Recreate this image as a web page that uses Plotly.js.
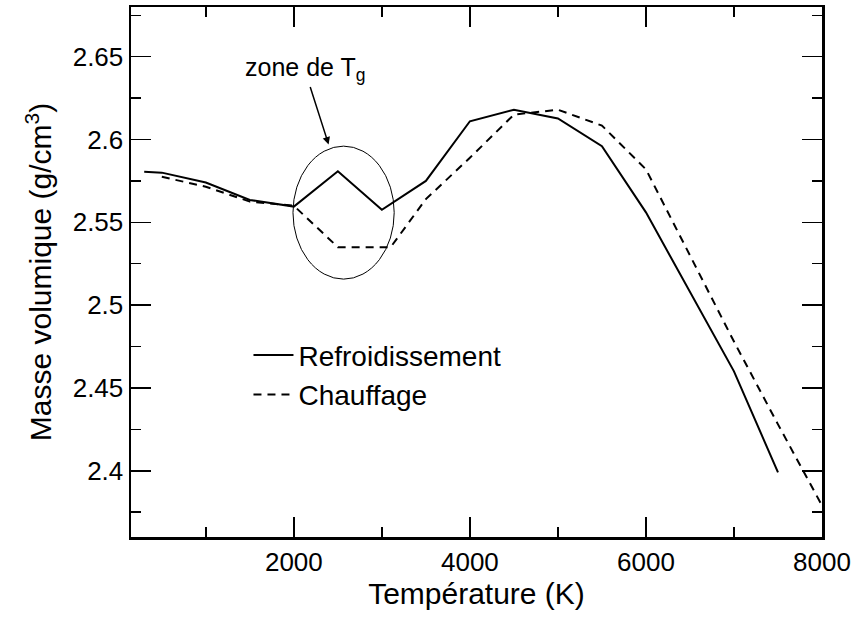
<!DOCTYPE html>
<html><head><meta charset="utf-8">
<script src="https://cdn.plot.ly/plotly-3.0.1.min.js"></script>
<style>html,body{margin:0;padding:0;background:#fff}#chart{width:856px;height:617px}</style>
</head><body><div id="chart"></div>
<script>
// Refroidissement (cooling) — solid line
const coolingT   = [300, 500, 1000, 1500, 2000, 2500, 3000, 3500, 4000, 4500, 5000, 5500, 6000, 6500, 7000, 7500];
const coolingRho = [2.5805, 2.580, 2.574, 2.5635, 2.5595, 2.5808, 2.5576, 2.575, 2.611, 2.618, 2.6127, 2.596, 2.556, 2.508, 2.460, 2.399];
// Chauffage (heating) — dashed line
const heatingT   = [500, 1000, 1500, 2000, 2500, 3100, 3500, 4000, 4500, 5000, 5500, 6000, 6500, 7000, 7500, 8000];
const heatingRho = [2.5775, 2.5715, 2.5625, 2.5600, 2.535, 2.535, 2.564, 2.589, 2.615, 2.618, 2.6084, 2.582, 2.530, 2.478, 2.428, 2.379];

const seriesNames = ['Refroidissement', 'Chauffage'];
const xTickVals = [2000, 4000, 6000, 8000];
const xTickText = ['2000', '4000', '6000', '8000'];
const yTickVals = [2.4, 2.45, 2.5, 2.55, 2.6, 2.65];
const yTickText = ['2.4', '2.45', '2.5', '2.55', '2.6', '2.65'];

const FONT = 'Liberation Sans, Arial, Helvetica, sans-serif';

const traces = [
  {x: coolingT, y: coolingRho, name: seriesNames[0], type: 'scatter', mode: 'lines',
   line: {color: '#000', width: 2}},
  {x: heatingT, y: heatingRho, name: seriesNames[1], type: 'scatter', mode: 'lines',
   line: {color: '#000', width: 2, dash: '8px,6px'}}
];

const axisCommon = {
  showline: true, linecolor: '#000', linewidth: 2.5, mirror: 'allticks',
  ticks: 'inside', ticklen: 20, tickwidth: 1.5, tickcolor: '#000',
  showgrid: false, zeroline: false,
  tickfont: {family: FONT, size: 26, color: '#000'},
  minor: {ticks: 'inside', ticklen: 10, tickwidth: 1.5, tickcolor: '#000', showgrid: false}
};

const layout = {
  width: 856, height: 617,
  paper_bgcolor: '#fff', plot_bgcolor: '#fff',
  margin: {l: 131, r: 34, t: 7, b: 80},
  font: {family: FONT, color: '#000'},
  showlegend: true,
  legend: {x: 0.17, y: 0.39, xanchor: 'left', yanchor: 'top', bgcolor: 'rgba(0,0,0,0)',
           font: {family: FONT, size: 28, color: '#000'}, tracegroupgap: 0, itemwidth: 40},
  xaxis: Object.assign({}, axisCommon, {
    range: [150, 8000], tickvals: xTickVals, ticktext: xTickText,
    minor: Object.assign({}, axisCommon.minor, {dtick: 1000, tick0: 0}),
    title: {text: 'Température (K)', font: {family: FONT, size: 30, color: '#000'}, standoff: 6}
  }),
  yaxis: Object.assign({}, axisCommon, {
    range: [2.36, 2.68], tickvals: yTickVals, ticktext: yTickText,
    minor: Object.assign({}, axisCommon.minor, {dtick: 0.025, tick0: 2.4}),
    title: {text: 'Masse volumique (g/cm<sup>3</sup>)', font: {family: FONT, size: 30, color: '#000'}, standoff: 12}
  }),
  shapes: [
    {type: 'circle', xref: 'x', yref: 'y', x0: 1990, x1: 3140, y0: 2.5157, y1: 2.596,
     line: {color: '#000', width: 1}}
  ],
  annotations: [
    {x: 2395, y: 2.597, xref: 'x', yref: 'y', text: 'zone de T<sub>g</sub>',
     showarrow: true, arrowhead: 2, arrowsize: 1, arrowwidth: 1.5, arrowcolor: '#000',
     ax: -24, ay: -75, font: {family: FONT, size: 25, color: '#000'}}
  ]
};

Plotly.newPlot('chart', traces, layout, {displayModeBar: false, staticPlot: true});
</script>
</body></html>
